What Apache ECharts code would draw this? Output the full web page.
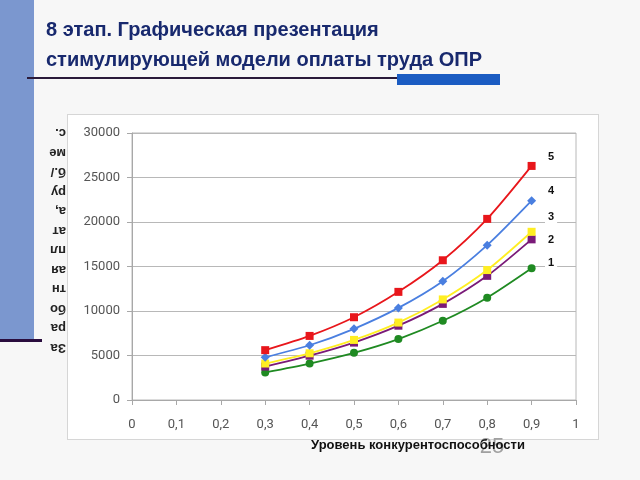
<!DOCTYPE html>
<html><head><meta charset="utf-8">
<script src="https://cdn.jsdelivr.net/npm/echarts@6/dist/echarts.min.js"></script>
<style>
html,body{margin:0;padding:0;background:#f7f7f7;width:640px;height:480px;overflow:hidden;}
#band{position:absolute;left:0;top:0;width:34px;height:340px;background:#7b97cf;}
#bandline{position:absolute;left:0;top:339px;width:42px;height:3px;background:#2a0d3e;}
#hline{position:absolute;left:27px;top:77px;width:473px;height:2px;background:#2a1a3a;}
#hbar{position:absolute;left:397px;top:74px;width:103px;height:11px;background:#1b5cc2;}
#box{position:absolute;left:67px;top:114px;width:532px;height:326px;background:#fff;border:1px solid #d6d6d6;box-sizing:border-box;}
#chart{position:absolute;left:0;top:0;width:640px;height:480px;}
</style></head>
<body>
<div id="band"></div><div id="bandline"></div><div id="box"></div><div id="hline"></div><div id="hbar"></div>
<div id="chart"></div>
<script>
const xValues = [0.3, 0.4, 0.5, 0.6, 0.7, 0.8, 0.9];
const series1 = [3100, 4100, 5300, 6850, 8900, 11500, 14800];
const series2 = [3750, 4980, 6450, 8350, 10800, 13950, 18050];
const series3 = [4100, 5250, 6750, 8700, 11300, 14600, 18900];
const series4 = [4800, 6150, 8000, 10350, 13350, 17400, 22400];
const series5 = [5600, 7200, 9300, 12150, 15700, 20350, 26300];
const seriesNames = ['1', '2', '3', '4', '5'];
const titleText = '8 этап. Графическая презентация\nстимулирующей модели оплаты труда ОПР';
const xAxisName = 'Уровень конкурентоспособности';
const yAxisName = 'За\nра\nбо\nтн\nая\nпл\nат\nа,\nру\nб./\nме\nс.';
const slideNumber = '25';

const colors = ['#1f8a22', '#7a1a78', '#ffee22', '#4a7fe0', '#e8161b'];
const symbols = ['circle', 'rect', 'rect', 'diamond', 'rect'];
const symbolSizes = [8, 8, 8, 9, 8];
const allData = [series1, series2, series3, series4, series5];
const labelY = [263, 240, 217, 191, 157];

const chart = echarts.init(document.getElementById('chart'));
const font = '"Liberation Sans", Arial, sans-serif';

const seriesList = allData.map((arr, i) => ({
  name: seriesNames[i],
  type: 'line',
  smooth: 0.25,
  data: arr.map((v, j) => [xValues[j], v]),
  symbol: symbols[i],
  symbolSize: symbolSizes[i],
  showSymbol: true,
  lineStyle: { color: colors[i], width: 1.8 },
  itemStyle: { color: colors[i] },
  z: 3 + i
}));

const graphics = [
  { type: 'text', x: 492, y: 447, z: 1, style: { text: slideNumber, font: '22px ' + font, fill: '#a0a0a0', textAlign: 'center', textVerticalAlign: 'middle' } },
  { type: 'text', x: 418, y: 445, z: 5, style: { text: xAxisName, font: 'bold 13px ' + font, fill: '#111', textAlign: 'center', textVerticalAlign: 'middle' } },
  { type: 'text', x: 66, y: 240, rotation: Math.PI, z: 5, style: { text: yAxisName, font: 'bold 13px ' + font, lineHeight: 19.5, fill: '#222', textAlign: 'left', textVerticalAlign: 'middle' } }
];
seriesNames.forEach((n, i) => {
  graphics.push({ type: 'text', x: 545, y: labelY[i], z: 10, style: { text: n, font: 'bold 11px ' + font, fill: '#111', textAlign: 'left', textVerticalAlign: 'middle', backgroundColor: '#fff', padding: [3, 3, 3, 3] } });
});

chart.setOption({
  animation: false,
  backgroundColor: 'transparent',
  title: {
    text: titleText, left: 41, top: 10,
    textStyle: { fontFamily: font, fontSize: 20, fontWeight: 'bold', color: '#18296e', lineHeight: 30 }
  },
  grid: { left: 132, right: 64, top: 133, bottom: 80, show: true, borderColor: '#b8b8b8', borderWidth: 1 },
  xAxis: {
    type: 'value', min: 0, max: 1, interval: 0.1,
    axisLine: { lineStyle: { color: '#a8a8a8' } },
    axisTick: { show: true, length: 5, lineStyle: { color: '#a8a8a8' } },
    splitLine: { show: false },
    axisLabel: { margin: 18, color: '#555', fontSize: 13, fontFamily: 'Roboto, sans-serif',
      formatter: v => String(Math.round(v * 10) / 10).replace('.', ',') }
  },
  yAxis: {
    type: 'value', min: 0, max: 30000, interval: 5000,
    axisLine: { show: true, lineStyle: { color: '#a8a8a8' } },
    axisTick: { show: true, length: 5, lineStyle: { color: '#a8a8a8' } },
    splitLine: { show: true, lineStyle: { color: '#b8b8b8' } },
    axisLabel: { margin: 12, color: '#555', fontSize: 13, fontFamily: 'Roboto, sans-serif',
      formatter: v => String(v) }
  },
  series: seriesList,
  graphic: graphics
});
</script>
</body></html>
